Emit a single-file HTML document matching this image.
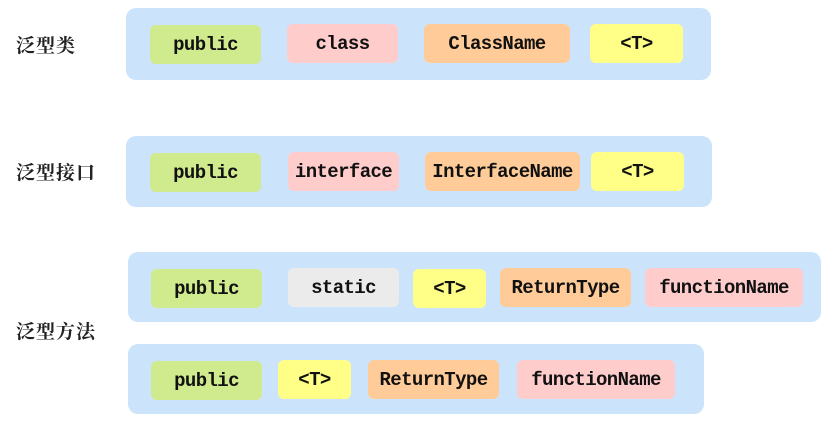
<!DOCTYPE html>
<html><head><meta charset="utf-8"><style>
body{margin:0;width:835px;height:425px;background:#fff;position:relative;overflow:hidden}
.c{position:absolute;background:#cce4fb;border-radius:10px}
.k{position:absolute;border-radius:6px;font:bold 19px "Liberation Mono",monospace;color:#111;display:flex;align-items:center;justify-content:center;height:39px;letter-spacing:-0.6px;white-space:nowrap}
.l{position:absolute;left:16px;font:bold 19px "Noto Serif CJK SC","Noto Sans CJK SC",serif;color:#222;letter-spacing:1px}
.g{background:#d0ea8e}.p{background:#ffcccc}.o{background:#ffcc99}.y{background:#ffff88}.e{background:#ebebeb}
</style></head><body>
<div class="l" style="top:31px">泛型类</div>
<div class="l" style="top:158px">泛型接口</div>
<div class="l" style="top:317px">泛型方法</div>

<div class="c" style="left:126px;top:8px;width:585px;height:72px"></div>
<div class="k g" style="left:150px;top:25px;width:111px">public</div>
<div class="k p" style="left:287px;top:24px;width:111px">class</div>
<div class="k o" style="left:424px;top:24px;width:146px">ClassName</div>
<div class="k y" style="left:590px;top:24px;width:93px">&lt;T&gt;</div>

<div class="c" style="left:126px;top:136px;width:586px;height:71px"></div>
<div class="k g" style="left:150px;top:153px;width:111px">public</div>
<div class="k p" style="left:288px;top:152px;width:111px">interface</div>
<div class="k o" style="left:425px;top:152px;width:155px">InterfaceName</div>
<div class="k y" style="left:591px;top:152px;width:93px">&lt;T&gt;</div>

<div class="c" style="left:128px;top:252px;width:693px;height:70px"></div>
<div class="k g" style="left:151px;top:269px;width:111px">public</div>
<div class="k e" style="left:288px;top:268px;width:111px">static</div>
<div class="k y" style="left:413px;top:269px;width:73px">&lt;T&gt;</div>
<div class="k o" style="left:500px;top:268px;width:131px">ReturnType</div>
<div class="k p" style="left:645px;top:268px;width:158px">functionName</div>

<div class="c" style="left:128px;top:344px;width:576px;height:70px"></div>
<div class="k g" style="left:151px;top:361px;width:111px">public</div>
<div class="k y" style="left:278px;top:360px;width:73px">&lt;T&gt;</div>
<div class="k o" style="left:368px;top:360px;width:131px">ReturnType</div>
<div class="k p" style="left:517px;top:360px;width:158px">functionName</div>
</body></html>
